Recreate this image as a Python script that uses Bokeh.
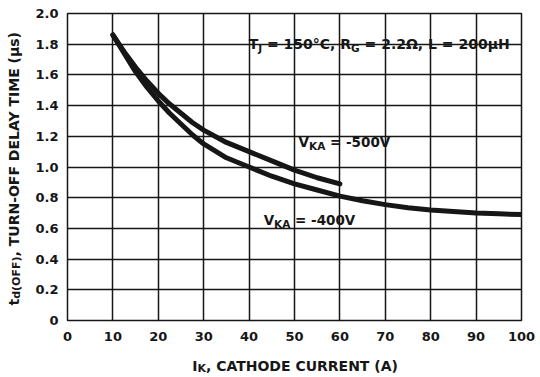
import math
from bokeh.plotting import figure
from bokeh.models import Label, FixedTicker, Range1d
from bokeh.layouts import row, column
from bokeh.embed import file_html
from bokeh.resources import INLINE

# ---------------- data ----------------
x_ticks = [0, 10, 20, 30, 40, 50, 60, 70, 80, 90, 100]
x_tick_labels = ["0", "10", "20", "30", "40", "50", "60", "70", "80", "90", "100"]
y_ticks = [0, 0.2, 0.4, 0.6, 0.8, 1.0, 1.2, 1.4, 1.6, 1.8, 2.0]
y_tick_labels = ["0", "0.2", "0.4", "0.6", "0.8", "1.0", "1.2", "1.4", "1.6", "1.8", "2.0"]

# V_KA = -400V curve
i_400 = [10, 12.5, 15, 17.5, 20, 22.5, 25, 27.5, 30, 35, 40, 45, 50, 55, 60, 65, 70, 75, 80, 85, 90, 95, 100]
t_400 = [1.86, 1.74, 1.62, 1.52, 1.43, 1.35, 1.28, 1.21, 1.15, 1.06, 1.00, 0.94, 0.89, 0.85, 0.81,
         0.78, 0.755, 0.735, 0.72, 0.71, 0.70, 0.695, 0.69]
# V_KA = -500V curve
i_500 = [10, 12.5, 15, 17.5, 20, 22.5, 25, 27.5, 30, 35, 40, 45, 50, 55, 60]
t_500 = [1.86, 1.75, 1.65, 1.56, 1.48, 1.41, 1.35, 1.29, 1.24, 1.16, 1.10, 1.04, 0.98, 0.93, 0.89]

FONT = "DejaVu Sans"
INK = "#161616"
YT_W = 30          # width of the strip holding the y-axis title
XT_H = 25          # height of the strip holding the x-axis title
MAIN_W, MAIN_H = 506, 350

p = figure(width=MAIN_W, height=MAIN_H, x_range=Range1d(0, 100), y_range=Range1d(0, 2.0),
           output_backend="svg", toolbar_location=None,
           min_border_left=37, min_border_right=15, min_border_top=13, min_border_bottom=30)
p.background_fill_color = "white"
p.border_fill_color = "white"
p.outline_line_color = INK
p.outline_line_width = 1.5

for ax in (p.xaxis, p.yaxis):
    ax.axis_line_color = None
    ax.major_tick_line_color = None
    ax.minor_tick_line_color = None
    ax.major_tick_in = 0
    ax.major_tick_out = 0
    ax.major_label_text_font = FONT
    ax.major_label_text_font_style = "bold"
    ax.major_label_text_font_size = "13px"
    ax.major_label_text_color = INK
p.xaxis.ticker = FixedTicker(ticks=x_ticks)
p.yaxis.ticker = FixedTicker(ticks=y_ticks)
p.xaxis.major_label_overrides = {t: l for t, l in zip(x_ticks, x_tick_labels)}
p.yaxis.major_label_overrides = {t: l for t, l in zip(y_ticks, y_tick_labels)}
p.xaxis.major_label_standoff = 11
p.yaxis.major_label_standoff = 9

p.xgrid.ticker = FixedTicker(ticks=x_ticks)
p.ygrid.ticker = FixedTicker(ticks=y_ticks)
for g in (p.xgrid, p.ygrid):
    g.grid_line_color = INK
    g.grid_line_width = 1.5

p.line(i_400, t_400, line_width=5, line_color=INK, line_cap="round", line_join="round")
p.line(i_500, t_500, line_width=5, line_color=INK, line_cap="round", line_join="round")

# approximate DejaVu Sans Bold advance widths (em)
W = {" ": .348, "(": .458, ")": .458, ",": .380, "-": .416, ".": .380, "=": .838, "°": .500,
     "A": .774, "C": .734, "D": .830, "E": .683, "F": .683, "G": .821, "H": .837, "I": .372,
     "J": .372, "K": .774, "L": .637, "M": .995, "N": .837, "O": .850, "R": .770, "T": .682,
     "U": .812, "V": .774, "Y": .724, "d": .716, "s": .595, "t": .478, "μ": .720, "Ω": .851}
for c in "0123456789":
    W[c] = .696


def tw(s, size):
    return sum(W.get(c, .65) for c in s) * size


def chain(fig, x, y, segs, angle=0.0, bg_pad=None):
    total = sum(tw(s[0], s[1]) for s in segs)
    if bg_pad is not None:
        # invisible filler text of the same width, only to carry a white backing box
        n = max(1, int(round(total / tw("0", segs[0][1]))))
        fig.add_layout(Label(x=x, y=y, text="0" * n, text_font=FONT, text_font_style="bold",
                             text_font_size="%gpx" % segs[0][1], text_alpha=0,
                             text_align="left", text_baseline="middle",
                             background_fill_color="white", padding=bg_pad))
    off = 0.0
    for text, size, shift in segs:
        lead = len(text) - len(text.lstrip(" "))
        off += tw(" " * lead, size)
        body = text.strip(" ")
        if angle == 0:
            xo, yo = off, shift
        else:
            xo, yo = -shift, off
        fig.add_layout(Label(x=x, y=y, x_offset=xo, y_offset=yo, text=body, angle=angle,
                             text_font=FONT, text_font_style="bold",
                             text_font_size="%gpx" % size, text_color=INK,
                             text_align="left", text_baseline="alphabetic"))
        off += tw(text.lstrip(" "), size)


chain(p, 39.9, 1.80, [("T", 14, 0), ("J", 10.5, -4), (" = 150°C, R", 14, 0), ("G", 10.5, -4),
                      (" = 2.2Ω, L = 200μH", 14, 0)], bg_pad=6)
chain(p, 50.9, 1.165, [("V", 13.5, 0), ("KA", 10.5, -4), (" = -500V", 13.5, 0)], bg_pad=7)
chain(p, 43.2, 0.652, [("V", 13.5, 0), ("KA", 10.5, -4), (" = -400V", 13.5, 0)], bg_pad=7)


def strip(w, h):
    f = figure(width=w, height=h, x_range=Range1d(0, w), y_range=Range1d(0, h),
               x_axis_type=None, y_axis_type=None, output_backend="svg",
               toolbar_location=None, min_border=0)
    f.grid.visible = False
    f.outline_line_color = None
    f.background_fill_color = "white"
    f.border_fill_color = "white"
    return f


# y-axis title strip (left of the plot)
yt = strip(YT_W, MAIN_H + XT_H)
chain(yt, 13, 70, [("t", 14, 0), ("d(OFF)", 11, -3), (", TURN-OFF DELAY TIME (μs)", 14, 0)],
      angle=math.pi / 2)

# x-axis title strip (below the plot)
xt = strip(MAIN_W, XT_H)
chain(xt, 139, 10, [("I", 14, 0), ("K", 11, -3), (", CATHODE CURRENT (A)", 14, 0)])

layout = row(yt, column(p, xt, spacing=0), spacing=0)
open("out.html", "w").write(file_html(layout, INLINE))
